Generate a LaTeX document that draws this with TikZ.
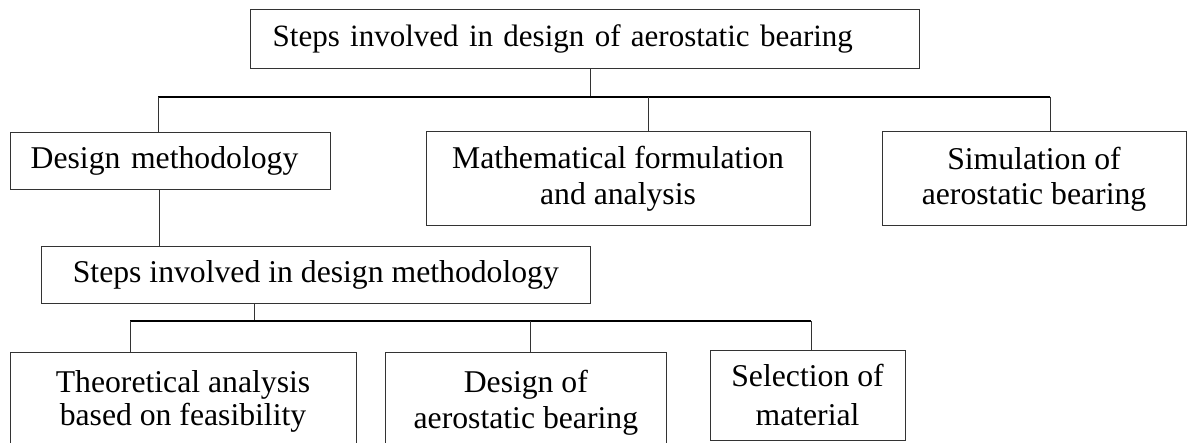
\documentclass[tikz,border=0pt]{standalone}
\usepackage{fontspec}
\setmainfont{Liberation Serif}
\tikzset{
  box/.style={draw=black!80, line width=0.5pt, rectangle, inner sep=0pt, align=center,
    font=\fontsize{15.85}{18}\selectfont},
  conn/.style={draw=black!80, line width=0.5pt},
  bus/.style={draw=black, line width=0.9pt},
}
\begin{document}
\begin{tikzpicture}[x=0.5pt,y=-0.5pt]
\useasboundingbox (0,0) rectangle (1187,443);
% level 0
\node[box, minimum height=29.15pt, text width=312.15pt, inner xsep=11pt, align=left,
  font=\fontsize{15.5}{18}\selectfont] (top) at (584.85,39.15)
  {Steps involved in design of aerostatic bearing};
% level 1
\node[box, minimum height=28.85pt, text width=139.65pt, inner xsep=10pt, align=left] (dm) at (170.35,161.15)
  {Design methodology};
\node[box, minimum width=192pt, minimum height=47pt] (math) at (618,179)
  {Mathematical formulation\\and analysis};
\node[box, minimum width=152pt, minimum height=47pt, font=\fontsize{15.85}{17.65}\selectfont] (sim) at (1034,179)
  {Simulation of\\aerostatic bearing};
% level 2
\node[box, minimum width=274.15pt, minimum height=28.5pt] (sdm) at (315.85,274.5)
  {Steps involved in design methodology};
% level 3
\node[box, minimum width=173pt, minimum height=48.5pt, font=\fontsize{15.85}{16.5}\selectfont] (theo) at (183,401.2)
  {Theoretical analysis\\based on feasibility};
\node[box, minimum width=140.15pt, minimum height=49.95pt] (des) at (525.85,402.65)
  {Design of\\aerostatic bearing};
\node[box, minimum width=97.5pt, minimum height=45.35pt, font=\fontsize{15.85}{19.5}\selectfont] (sel) at (807.5,395.35)
  {Selection of\\material};
% connectors level 0 -> 1
\coordinate (j1) at (590,96.7);
\coordinate (b1l) at (158,96.7);
\coordinate (b1m) at (648,96.7);
\coordinate (b1r) at (1050,96.7);
\draw[conn] (top.south -| j1) -- (j1);
\draw[bus] (b1l) -- (b1r);
\draw[conn] (b1l) -- (b1l |- dm.north);
\draw[conn] (b1m) -- (b1m |- math.north);
\draw[conn] (b1r) -- (b1r |- sim.north);
% dm -> sdm
\coordinate (x2) at (159,0);
\draw[conn] (dm.south -| x2) -- (sdm.north -| x2);
% sdm -> level 3
\coordinate (j2) at (254,321);
\coordinate (b2l) at (130,321);
\coordinate (b2m) at (530,321);
\coordinate (b2r) at (811,321);
\draw[conn] (sdm.south -| j2) -- (j2);
\draw[bus] (b2l) -- (b2r);
\draw[conn] (b2l) -- (b2l |- theo.north);
\draw[conn] (b2m) -- (b2m |- des.north);
\draw[conn] (b2r) -- (b2r |- sel.north);
\end{tikzpicture}
\end{document}
